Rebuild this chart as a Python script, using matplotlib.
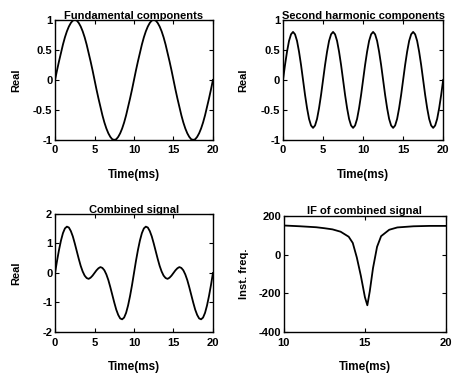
"""Four-panel signal figure: fundamental, second harmonic, their sum and its IF."""

import matplotlib

matplotlib.use("Agg")
import matplotlib.pyplot as plt

# time axis for the three signal panels (ms, step 0.25)
TIME_MS = [i * 0.25 for i in range(81)]

FUNDAMENTAL = [
    0.00, 0.16, 0.31, 0.45, 0.59, 0.71, 0.81, 0.89, 0.95, 0.99,
    1.00, 0.99, 0.95, 0.89, 0.81, 0.71, 0.59, 0.45, 0.31, 0.16,
    0.00, -0.16, -0.31, -0.45, -0.59, -0.71, -0.81, -0.89, -0.95, -0.99,
    -1.00, -0.99, -0.95, -0.89, -0.81, -0.71, -0.59, -0.45, -0.31, -0.16,
    0.00, 0.16, 0.31, 0.45, 0.59, 0.71, 0.81, 0.89, 0.95, 0.99,
    1.00, 0.99, 0.95, 0.89, 0.81, 0.71, 0.59, 0.45, 0.31, 0.16,
    0.00, -0.16, -0.31, -0.45, -0.59, -0.71, -0.81, -0.89, -0.95, -0.99,
    -1.00, -0.99, -0.95, -0.89, -0.81, -0.71, -0.59, -0.45, -0.31, -0.16,
    0.00,
]

SECOND_HARMONIC = [
    0.00, 0.25, 0.47, 0.65, 0.76, 0.80, 0.76, 0.65, 0.47, 0.25,
    0.00, -0.25, -0.47, -0.65, -0.76, -0.80, -0.76, -0.65, -0.47, -0.25,
    0.00, 0.25, 0.47, 0.65, 0.76, 0.80, 0.76, 0.65, 0.47, 0.25,
    0.00, -0.25, -0.47, -0.65, -0.76, -0.80, -0.76, -0.65, -0.47, -0.25,
    0.00, 0.25, 0.47, 0.65, 0.76, 0.80, 0.76, 0.65, 0.47, 0.25,
    0.00, -0.25, -0.47, -0.65, -0.76, -0.80, -0.76, -0.65, -0.47, -0.25,
    0.00, 0.25, 0.47, 0.65, 0.76, 0.80, 0.76, 0.65, 0.47, 0.25,
    0.00, -0.25, -0.47, -0.65, -0.76, -0.80, -0.76, -0.65, -0.47, -0.25,
    0.00,
]

COMBINED = [
    0.00, 0.41, 0.78, 1.10, 1.35, 1.51, 1.57, 1.54, 1.42, 1.24,
    1.00, 0.74, 0.48, 0.24, 0.05, -0.09, -0.17, -0.20, -0.16, -0.09,
    0.00, 0.09, 0.16, 0.20, 0.17, 0.09, -0.05, -0.24, -0.48, -0.74,
    -1.00, -1.24, -1.42, -1.54, -1.57, -1.51, -1.35, -1.10, -0.78, -0.41,
    0.00, 0.41, 0.78, 1.10, 1.35, 1.51, 1.57, 1.54, 1.42, 1.24,
    1.00, 0.74, 0.48, 0.24, 0.05, -0.09, -0.17, -0.20, -0.16, -0.09,
    0.00, 0.09, 0.16, 0.20, 0.17, 0.09, -0.05, -0.24, -0.48, -0.74,
    -1.00, -1.24, -1.42, -1.54, -1.57, -1.51, -1.35, -1.10, -0.78, -0.41,
    0.00,
]

# instantaneous frequency
IF_TIME_MS = [10, 11, 12, 12.5, 13, 13.5, 14, 14.25, 14.5, 14.75, 15, 15.15,
              15.3, 15.5, 15.75, 16, 16.5, 17, 18, 19, 20]
IF_VALUES = [150, 146, 141, 136, 130, 118, 92, 60, -15, -110, -220, -262,
             -190, -70, 40, 95, 128, 140, 146, 148, 148]

plt.rcParams["font.family"] = ["Liberation Sans", "DejaVu Sans"]
plt.rcParams["axes.unicode_minus"] = False

FS = 8
LW = 1.3


def style(ax, xlim, xticks, ylim, yticks, ylabels, title, ylabel):
    ax.set_xlim(*xlim)
    ax.set_ylim(*ylim)
    ax.set_xticks(xticks)
    ax.set_yticks(yticks)
    ax.set_yticklabels(ylabels)
    ax.tick_params(direction="in", top=True, right=True, length=3,
                   labelsize=FS, width=0.8)
    ax.tick_params(axis="x", pad=4)
    ax.tick_params(axis="y", pad=2)
    for lbl in ax.get_xticklabels() + ax.get_yticklabels():
        lbl.set_fontweight("bold")
    for sp in ax.spines.values():
        sp.set_linewidth(1.0)
    ax.set_title(title, fontsize=FS, fontweight="bold", pad=1)
    ax.set_xlabel("Time(ms)", fontsize=FS + 0.5, fontweight="bold", labelpad=10)
    ax.set_ylabel(ylabel, fontsize=FS, fontweight="bold")


fig = plt.figure(figsize=(4.55, 3.76), dpi=100)

ax1 = fig.add_axes([0.121, 0.628, 0.347, 0.319])
ax1.plot(TIME_MS, FUNDAMENTAL, color="black", linewidth=LW)
style(ax1, (0, 20), [0, 5, 10, 15, 20], (-1, 1), [-1, -0.5, 0, 0.5, 1],
      ["-1", "-0.5", "0", "0.5", "1"], "Fundamental components", "Real")

ax2 = fig.add_axes([0.622, 0.628, 0.352, 0.319])
ax2.plot(TIME_MS, SECOND_HARMONIC, color="black", linewidth=LW)
style(ax2, (0, 20), [0, 5, 10, 15, 20], (-1, 1), [-1, -0.5, 0, 0.5, 1],
      ["-1", "-0.5", "0", "0.5", "1"], "Second harmonic components", "Real")

ax3 = fig.add_axes([0.121, 0.117, 0.347, 0.314])
ax3.plot(TIME_MS, COMBINED, color="black", linewidth=LW)
style(ax3, (0, 20), [0, 5, 10, 15, 20], (-2, 2), [-2, -1, 0, 1, 2],
      ["-2", "-1", "0", "1", "2"], "Combined signal", "Real")

ax4 = fig.add_axes([0.624, 0.117, 0.356, 0.309])
ax4.plot(IF_TIME_MS, IF_VALUES, color="black", linewidth=LW)
style(ax4, (10, 20), [10, 15, 20], (-400, 200), [-400, -200, 0, 200],
      ["-400", "-200", "0", "200"], "IF of combined signal", "Inst. freq.")

for ax in (ax1, ax2, ax3, ax4):
    ax.yaxis.set_label_coords(-0.215, 0.5)

fig.savefig("out.png", dpi=100)
